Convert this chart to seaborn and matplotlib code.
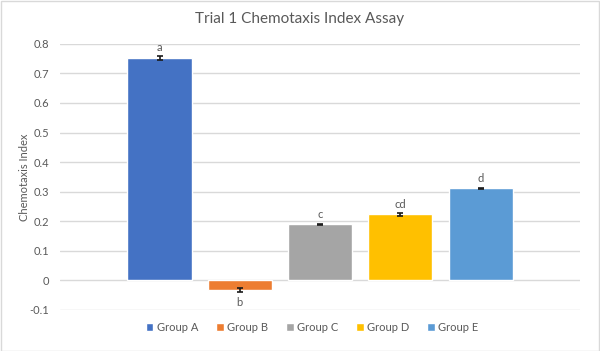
import numpy as np
import pandas as pd
import matplotlib.pyplot as plt
import seaborn as sns
from matplotlib.patches import Patch

groups = ['Group A', 'Group B', 'Group C', 'Group D', 'Group E']
index_vals = [0.752, -0.034, 0.189, 0.223, 0.312]
err_vals = [0.006, 0.007, 0.002, 0.004, 0.002]
letters = ['a', 'b', 'c', 'cd', 'd']
colors = ['#4472C4', '#ED7D31', '#A5A5A5', '#FFC000', '#5B9BD5']

df = pd.DataFrame({'group': groups, 'value': index_vals})

sns.set_style('white')
plt.rcParams['font.family'] = ['Lato', 'DejaVu Sans']

fig = plt.figure(figsize=(6, 3.51), dpi=100)
ax = fig.add_axes([0.1, 0.117, 0.867, 0.758])

sns.barplot(data=df, x='group', y='value', hue='group', palette=colors,
            saturation=1, width=0.8, legend=False, ax=ax, zorder=3)

# error bars + significance letters
for i, p in enumerate(ax.patches[:len(groups)]):
    cx = p.get_x() + p.get_width() / 2
    v = index_vals[i]
    ax.errorbar(cx, v, yerr=err_vals[i], fmt='none', ecolor='#1a1a1a',
                elinewidth=1.2, capsize=2.5, capthick=1.2, zorder=4)
    if v >= 0:
        ax.text(cx, v + err_vals[i] + 0.012, letters[i], ha='center', va='bottom',
                fontsize=8, color='#595959')
    else:
        ax.text(cx, v - err_vals[i] - 0.015, letters[i], ha='center', va='top',
                fontsize=8, color='#595959')

ax.set_ylim(-0.1, 0.8)
ax.set_yticks(np.arange(-0.1, 0.81, 0.1))
ax.set_yticklabels(['-0.1', '0', '0.1', '0.2', '0.3', '0.4', '0.5', '0.6', '0.7', '0.8'])
ax.set_xlim(-1.24, 5.24)
ax.set_xticks([])
ax.set_xlabel('')
ax.set_ylabel('Chemotaxis Index', fontsize=8, color='#595959')
ax.yaxis.set_label_coords(-0.058, 0.5)
ax.tick_params(axis='y', labelsize=8, labelcolor='#595959', length=0, pad=8)
ax.grid(axis='y', color='#D9D9D9', linewidth=1, zorder=0)
ax.set_axisbelow(True)
for s in ax.spines.values():
    s.set_visible(False)

fig.suptitle('Trial 1 Chemotaxis Index Assay', y=0.965, fontsize=11, color='#595959')

handles = [Patch(facecolor=c, label=g) for g, c in zip(groups, colors)]
fig.legend(handles=handles, loc='center', bbox_to_anchor=(0.52, 0.068), ncol=5,
           frameon=False, fontsize=8, handlelength=0.7, handleheight=0.7,
           handletextpad=0.3, columnspacing=1.6, labelcolor='#595959')

fig.patches.append(plt.Rectangle((0.001, 0.001), 0.997, 0.997, transform=fig.transFigure,
                                 fill=False, edgecolor='#D9D9D9', linewidth=1))

fig.savefig('out.png', dpi=100)
